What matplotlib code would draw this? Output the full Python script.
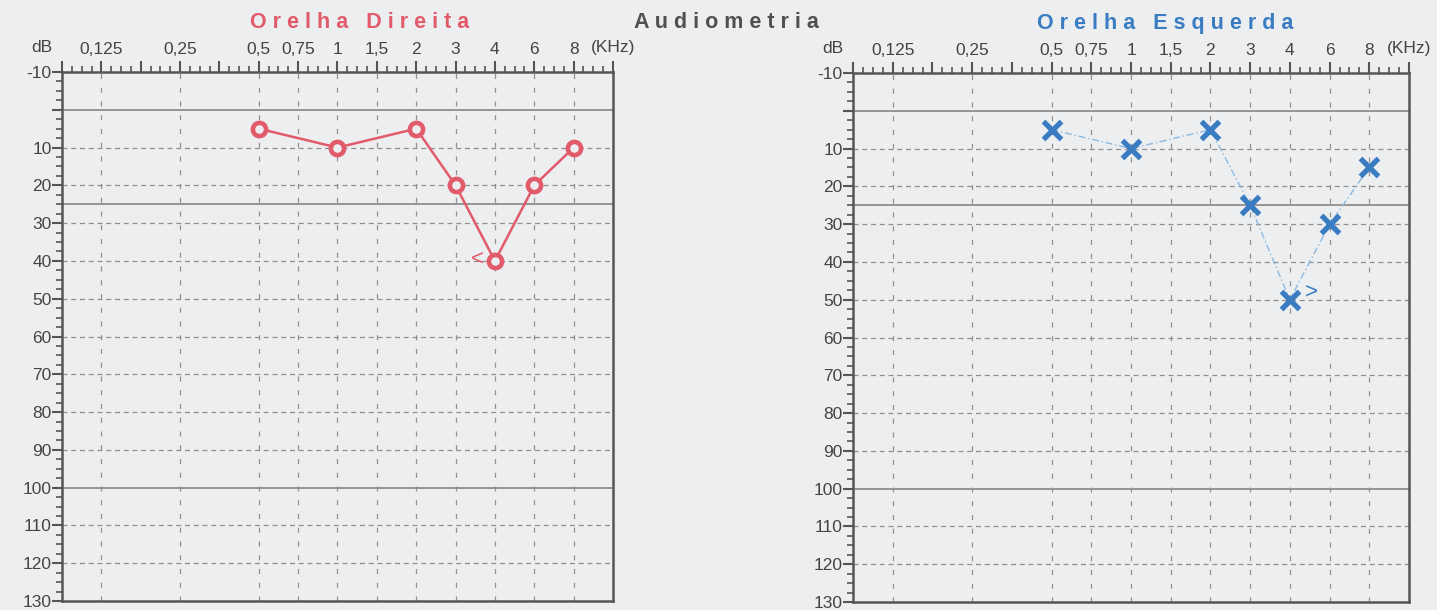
import matplotlib
matplotlib.use("Agg")
from matplotlib import pyplot as plt
from matplotlib.ticker import MultipleLocator

plt.rcParams["font.family"] = ["Liberation Sans", "DejaVu Sans"]
plt.rcParams["axes.unicode_minus"] = False

# audiometer columns (half-octave steps), blanks are unlabeled columns
freq_columns = ["0,125", "", "0,25", "", "0,5", "0,75", "1", "1,5", "2", "3", "4", "6", "8"]

# thresholds in dB HL
right_freqs = ["0,5", "1", "2", "3", "4", "6", "8"]
right_db = [5, 10, 5, 20, 40, 20, 10]
left_freqs = ["0,5", "1", "2", "3", "4", "6", "8"]
left_db = [5, 10, 5, 25, 50, 30, 15]

db_ticks = list(range(-10, 131, 10))
db_labels = ["" if v == 0 else str(v) for v in db_ticks]
solid_levels = [0, 25, 100]

paper = "#eceef0"
ink = "#444444"
grid_c = "#8f8f8f"
red = "#e25b6b"
blue = "#3a7cc2"
light_blue = "#8db9e0"


def col(f):
    return freq_columns.index(f)


def setup_axes(ax):
    ax.set_facecolor(paper)
    ax.set_xlim(-1, 13)
    ax.set_ylim(130, -10)

    # reference lines
    for lv in db_ticks:
        if lv in solid_levels or lv in (-10, 130):
            continue
        ax.axhline(lv, color=grid_c, lw=0.9, ls=(0, (4, 3)), zorder=1)
    for lv in solid_levels:
        ax.axhline(lv, color="#858585", lw=1.2, zorder=1)
    for i, lab in enumerate(freq_columns):
        if lab:
            ax.axvline(i, color=grid_c, lw=0.9, ls=(0, (4, 7)), zorder=1)

    for s in ax.spines.values():
        s.set_color("#555555")
        s.set_linewidth(1.8)

    # frequency ruler on top
    ax.xaxis.tick_top()
    ax.set_xticks(range(-1, 14))
    ax.set_xticklabels([""] + freq_columns + [""])
    ax.xaxis.set_minor_locator(MultipleLocator(0.25))
    ax.tick_params(axis="x", which="major", direction="out", length=8,
                   width=1.5, color="#555555", pad=3, labelsize=12.5, labelcolor=ink)
    ax.tick_params(axis="x", which="minor", direction="out", length=4,
                   width=1.2, color="#555555")

    # dB ruler on left
    ax.set_yticks(db_ticks)
    ax.set_yticklabels(db_labels)
    ax.yaxis.set_minor_locator(MultipleLocator(2.5))
    ax.tick_params(axis="y", which="major", direction="out", length=7,
                   width=1.5, color="#555555", pad=0.5, labelsize=12.5, labelcolor=ink)
    ax.tick_params(axis="y", which="minor", direction="out", length=4,
                   width=1.2, color="#555555")

    ax.text(-0.036, 1.0 + 17 / 529, "dB", transform=ax.transAxes, fontsize=12.5,
            color=ink, ha="center", va="bottom")
    ax.text(1.0, 1.0 + 17 / 529, "(KHz)", transform=ax.transAxes, fontsize=12.5,
            color=ink, ha="center", va="bottom")


fig = plt.figure(figsize=(14.37, 6.10), dpi=100, facecolor=paper)
axL = fig.add_axes([62 / 1437, 1 - 601 / 610, 551 / 1437, 529 / 610])
axR = fig.add_axes([853 / 1437, 1 - 602 / 610, 556 / 1437, 529 / 610])

for ax in (axL, axR):
    setup_axes(ax)

# right ear (Orelha Direita): circles, solid line
xr = [col(f) for f in right_freqs]
axL.plot(xr, right_db, color=red, lw=1.8, marker="o", ms=9.5, mew=3.3,
         mec=red, mfc=paper, zorder=5, clip_on=False)
axL.text(col("4") - 0.45, 39.5, "<", color=red, fontsize=16, ha="center",
         va="center", zorder=6)

# left ear (Orelha Esquerda): crosses, dashed line
xl = [col(f) for f in left_freqs]
axR.plot(xl, left_db, color=light_blue, lw=1.0, ls=(0, (5, 2, 1, 2)), zorder=4)
axR.plot(xl, left_db, ls="none", marker="x", ms=13.5, mew=3.8, color=blue, zorder=5)
axR.text(col("4") + 0.55, 48, ">", color=blue, fontsize=16, ha="center",
         va="center", zorder=6)

fig.text(360 / 1437, 1 - 23 / 610, "O r e l h a   D i r e i t a", color=red,
         fontsize=15.5, fontweight="bold", ha="center", va="center")
fig.text(1165 / 1437, 1 - 23 / 610, "O r e l h a   E s q u e r d a", color=blue,
         fontsize=15.5, fontweight="bold", ha="center", va="center")
fig.text(726 / 1437, 1 - 22 / 610, "A u d i o m e t r i a", color="#505050",
         fontsize=15.5, fontweight="bold", ha="center", va="center")

fig.savefig("out.png", dpi=100, facecolor=paper)
